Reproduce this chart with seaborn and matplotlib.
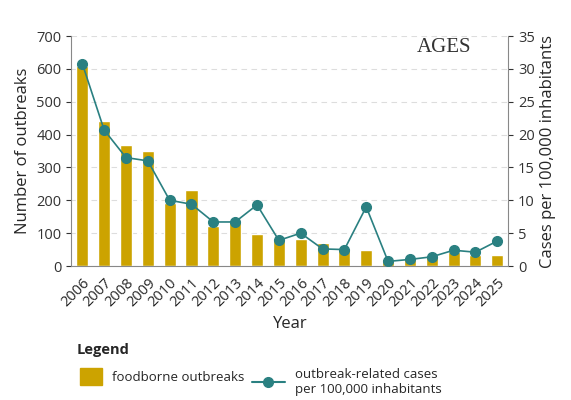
import matplotlib
matplotlib.use("Agg")
import matplotlib.pyplot as plt
import numpy as np
import seaborn as sns
from matplotlib.lines import Line2D
from matplotlib.patches import Patch

years = [str(y) for y in range(2006, 2026)]
outbreaks = [610, 440, 367, 350, 192, 232, 122, 134, 96, 79, 81, 70, 53, 48, 22, 20, 28, 43, 34, 34]
cases = [30.8, 20.7, 16.5, 16.0, 10.0, 9.4, 6.7, 6.7, 9.3, 3.9, 5.0, 2.6, 2.5, 9.0, 0.7, 1.0, 1.4, 2.4, 2.1, 3.8]

sns.set_style("white")
plt.rcParams['font.family'] = ['Open Sans', 'DejaVu Sans']

bar_c = "#cca300"
line_c = "#2a8081"

fig = plt.figure(figsize=(5.71, 4.0), dpi=100)
ax = fig.add_axes([0.125, 0.335, 0.765, 0.575])
x = np.arange(len(years))
sns.barplot(x=x, y=outbreaks, color=bar_c, width=0.55, ax=ax, saturation=1)
ax.set_ylim(0, 700)
ax.set_yticks(range(0, 701, 100))
ax.set_xlim(-0.5, len(years) - 0.5)
ax.set_xticks(x)
ax.set_xticklabels(years, rotation=45, ha="right", rotation_mode="anchor", fontsize=10.5)
ax.tick_params(axis="y", labelsize=10.5, colors="#333333")
ax.yaxis.grid(True, linestyle=(0, (5, 4)), color="#dddddd")
ax.set_axisbelow(True)
ax.set_ylabel("Number of outbreaks", fontsize=12)
ax.set_xlabel("Year", fontsize=12)
for s in ["top", "right"]:
    ax.spines[s].set_visible(False)
for s in ["left", "bottom"]:
    ax.spines[s].set_color("#888888")

ax2 = ax.twinx()
ax2.plot(x, cases, color=line_c, lw=1.2, marker="o", ms=7)
ax2.set_ylim(0, 35)
ax2.set_yticks(range(0, 36, 5))
ax2.tick_params(axis="y", labelsize=10.5, colors="#333333")
ax2.set_ylabel("Cases per 100,000 inhabitants", fontsize=12)
for s in ["top", "left", "bottom"]:
    ax2.spines[s].set_visible(False)
ax2.spines["right"].set_color("#888888")

fig.text(0.73, 0.87, "AGES", fontsize=15, family="Liberation Serif", color="#333333")

fig.text(0.135, 0.115, "Legend", fontsize=10.5, weight="bold")
fig.legend(handles=[Patch(color=bar_c)], labels=["foodborne outbreaks"],
           loc="upper left", bbox_to_anchor=(0.12, 0.11), frameon=False, fontsize=9.5,
           handlelength=1.6, handleheight=1.6)
fig.legend(handles=[Line2D([], [], color=line_c, marker="o", ms=7)],
           labels=["outbreak-related cases\nper 100,000 inhabitants"],
           loc="upper left", bbox_to_anchor=(0.42, 0.11), frameon=False, fontsize=9.5,
           handlelength=2.5)

fig.savefig("out.png", dpi=100)
